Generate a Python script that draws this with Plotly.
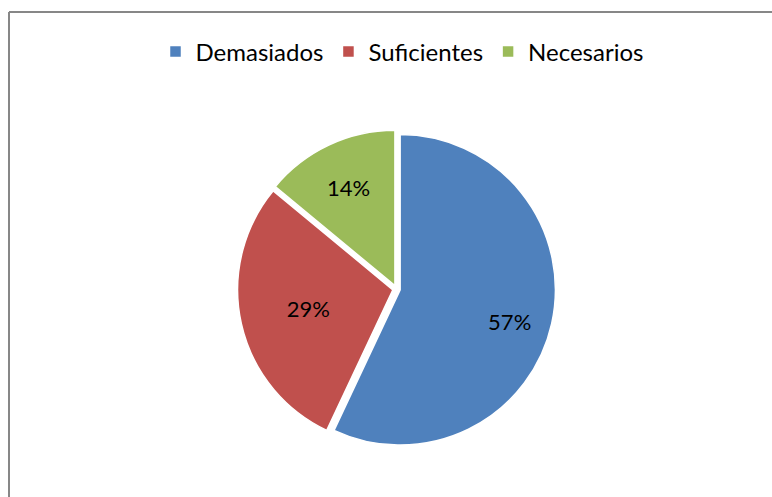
# Pie chart: Demasiados / Suficientes / Necesarios
import plotly.graph_objects as go

# Data
labels = ['Demasiados', 'Suficientes', 'Necesarios']
values = [57, 29, 14]
colors = ['#4F81BD', '#C0504D', '#9BBB59']

W, H = 772, 497


def fx(px):
    # page pixel -> paper x
    return px / W


def fy(py):
    # page pixel (from top) -> paper y
    return 1 - py / H


# nudge the big slice's label outward (Excel puts it further from the centre)
pad = '&nbsp;' * 12
templates = ['&nbsp;<br>' + pad + '%{percent:.0%}', '%{percent:.0%}', '%{percent:.0%}']

cx, cy, half = 396.5, 289, 159

fig = go.Figure()

fig.add_trace(go.Pie(
    labels=labels,
    values=values,
    sort=False,
    direction='clockwise',
    rotation=0,
    pull=[0.024, 0.024, 0.024],
    marker={'colors': colors, 'line': {'color': 'white', 'width': 1.5}},
    texttemplate=templates,
    textposition='inside',
    insidetextorientation='horizontal',
    textfont={'family': 'Lato', 'size': 22, 'color': 'black'},
    hoverinfo='label+percent',
    domain={'x': [fx(cx - half), fx(cx + half)], 'y': [fy(cy + half), fy(cy - half)]},
))

# Grey frame: only the left and top edges show in the original
frame = {'color': '#878787', 'width': 2}
fig.add_shape(type='line', xref='paper', yref='paper',
              x0=fx(9), x1=fx(9), y0=0, y1=fy(12), line=frame)
fig.add_shape(type='line', xref='paper', yref='paper',
              x0=fx(9), x1=1, y0=fy(12), y1=fy(12), line=frame)

fig.update_layout(
    width=W, height=H,
    margin={'l': 0, 'r': 0, 't': 0, 'b': 0},
    paper_bgcolor='white',
    plot_bgcolor='white',
    font={'family': 'Lato', 'color': 'black'},
    legend={
        'orientation': 'h',
        'x': fx(402), 'xanchor': 'center',
        'y': fy(52), 'yanchor': 'middle',
        'font': {'size': 24},
        'itemwidth': 30,
    },
)

# drop the browser's default body margin so the figure fills the window
fig.write_html("out.html",
               config={'displayModeBar': False},
               post_script="document.body.style.margin='0';document.body.style.overflow='hidden';")
